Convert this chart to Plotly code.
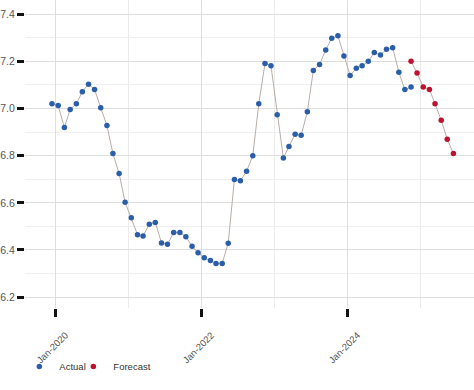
import pandas as pd
import plotly.graph_objects as go

actual_dates = pd.date_range("2019-11-15", periods=60, freq="MS") + pd.Timedelta(days=14)
actual_values = [
    7.020, 7.013, 6.919, 6.996, 7.020, 7.071, 7.103, 7.081, 7.003, 6.928, 6.809, 6.724,
    6.602, 6.537, 6.465, 6.459, 6.509, 6.517, 6.430, 6.424, 6.474, 6.474, 6.456, 6.416,
    6.388, 6.367, 6.355, 6.343, 6.343, 6.429, 6.699, 6.694, 6.734, 6.800, 7.020, 7.191,
    7.181, 6.973, 6.790, 6.839, 6.891, 6.887, 6.986, 7.161, 7.187, 7.248, 7.298, 7.308,
    7.223, 7.140, 7.171, 7.181, 7.200, 7.237, 7.227, 7.251, 7.258, 7.154, 7.080, 7.091,
]
forecast_dates = pd.date_range("2024-11-01", periods=8, freq="MS") + pd.Timedelta(days=14)
forecast_values = [7.200, 7.150, 7.091, 7.081, 7.020, 6.950, 6.870, 6.809]

x_tickvals = ["2020-01-01", "2022-01-01", "2024-01-01"]
x_ticktext = ["Jan-2020", "Jan-2022", "Jan-2024"]
y_tickvals = [6.2, 6.4, 6.6, 6.8, 7.0, 7.2, 7.4]

BLUE = "#2a5ea8"
RED = "#bd1230"
LINE = "#b8aea8"

fig = go.Figure()
fig.add_trace(go.Scatter(
    x=actual_dates, y=actual_values, name="Actual", mode="lines+markers",
    line=dict(color=LINE, width=1), marker=dict(color=BLUE, size=5.5),
    showlegend=False,
))
fig.add_trace(go.Scatter(
    x=forecast_dates, y=forecast_values, name="Forecast", mode="lines+markers",
    line=dict(color=LINE, width=1), marker=dict(color=RED, size=5.5),
    showlegend=False,
))
# legend entries (markers only)
fig.add_trace(go.Scatter(x=[None], y=[None], name="Actual", mode="markers",
                         marker=dict(color=BLUE, size=5.5), showlegend=True, legend="legend"))
fig.add_trace(go.Scatter(x=[None], y=[None], name="Forecast", mode="markers",
                         marker=dict(color=RED, size=5.5), showlegend=True, legend="legend2"))

legend_common = dict(orientation="h", xanchor="left", y=-0.19, yanchor="middle",
                     bgcolor="rgba(0,0,0,0)", font=dict(size=9.5, color="#333"),
                     itemwidth=30)

fig.update_layout(
    width=474, height=390,
    margin=dict(l=25, r=0, t=0, b=82),
    paper_bgcolor="white", plot_bgcolor="white",
    font=dict(family="Liberation Sans, Arial, sans-serif", color="#555", size=10),
    showlegend=True,
    legend=dict(x=-0.0126, **legend_common),
    legend2=dict(x=0.1077, **legend_common),
    xaxis=dict(
        type="date", range=["2019-08-02", "2025-09-26"],
        tickvals=x_tickvals, ticktext=x_ticktext, tickangle=-45,
        tickfont=dict(size=9.5),
        ticklabelshift=10, ticklabelstandoff=9,
        ticks="outside", ticklen=8, tickwidth=3, tickcolor="#111",
        showgrid=True, gridcolor="#dedede", gridwidth=1,
        minor=dict(dtick="M12", tick0="2021-01-01", showgrid=True, gridcolor="#ebebeb", ticks=""),
        showline=False, zeroline=False, fixedrange=True,
    ),
    yaxis=dict(
        range=[6.154, 7.46], tickvals=y_tickvals, tickformat=".1f",
        tickfont=dict(size=10.5),
        ticks="outside", ticklen=7, tickwidth=3, tickcolor="#111",
        showgrid=True, gridcolor="#dedede", gridwidth=1,
        minor=dict(dtick=0.1, tick0=6.1, showgrid=True, gridcolor="#efefef", ticks=""),
        showline=False, zeroline=False, fixedrange=True,
    ),
)

fig.write_html("out.html", config={"displayModeBar": False})
